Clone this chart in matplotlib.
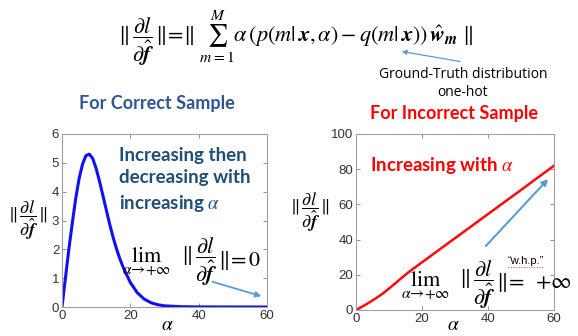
import matplotlib
matplotlib.use("Agg")
import matplotlib.pyplot as plt
from matplotlib.patches import FancyArrowPatch

plt.rcParams['mathtext.fontset'] = 'stix'
plt.rcParams['font.family'] = ['Liberation Sans', 'DejaVu Sans']

# ---- data ----
alpha_correct = [0, 1, 2, 3, 4, 5, 6, 7, 8, 9, 10, 11, 12, 13, 14, 15, 16, 17, 18,
                 20, 22, 24, 26, 28, 30, 35, 40, 50, 60]
grad_correct = [0, 1.0, 2.0, 2.9, 3.75, 4.45, 4.95, 5.25, 5.3, 5.15, 4.8, 4.35, 3.85,
                3.35, 2.85, 2.4, 2.0, 1.65, 1.35, 0.85, 0.5, 0.28, 0.15, 0.08, 0.04,
                0.01, 0.003, 0.0, 0.0]

alpha_incorrect = [0, 3, 6, 8, 10, 12, 14, 16, 20, 30, 40, 50, 60]
grad_incorrect = [0, 3.1, 6.6, 9.2, 12.2, 15.3, 18.5, 21.6, 27.1, 40.8, 54.5, 68.2, 82]

x_ticks = [0, 20, 40, 60]
y_ticks_correct = [0, 1, 2, 3, 4, 5, 6]
y_ticks_incorrect = [0, 20, 40, 60, 80, 100]

W, H = 578, 336
fig = plt.figure(figsize=(W / 100, H / 100), dpi=100)


def px_axes(x0, y0, x1, y1):
    return fig.add_axes([x0 / W, 1 - y1 / H, (x1 - x0) / W, (y1 - y0) / H])


def style(ax):
    for s in ax.spines.values():
        s.set_color('#a0a0a0')
        s.set_linewidth(0.8)
    ax.tick_params(direction='in', length=3, width=0.6, color='#808080',
                   labelsize=9.5, labelcolor='#333333', top=True, right=True, pad=2)


ax1 = px_axes(62, 134, 267, 307)
ax1.plot(alpha_correct, grad_correct, color='#1010f0', lw=2.2)
ax1.set_xlim(0, 60)
ax1.set_ylim(0, 6)
ax1.set_xticks(x_ticks)
ax1.set_yticks(y_ticks_correct)
style(ax1)

ax2 = px_axes(356, 134, 554, 310)
ax2.plot(alpha_incorrect, grad_incorrect, color='#ff0a0a', lw=1.8)
ax2.set_xlim(0, 60)
ax2.set_ylim(0, 100)
ax2.set_xticks(x_ticks)
ax2.set_yticks(y_ticks_incorrect)
style(ax2)

# overlay in pixel coordinates
ov = fig.add_axes([0, 0, 1, 1])
ov.set_xlim(0, W)
ov.set_ylim(H, 0)
ov.axis('off')
ov.patch.set_visible(False)
ov.set_zorder(10)

frac = r'\dfrac{\partial l}{\partial \hat{\boldsymbol{f}}}'

ov.text(118, 38, r'$\Vert\,' + frac + r'\,\Vert\!=\!\Vert\;\sum_{m=1}^{M}\alpha\,(p(m|\,\boldsymbol{x},\alpha)-q(m|\,\boldsymbol{x}))\,\hat{\boldsymbol{w}}_{\boldsymbol{m}}\;\Vert$',
        fontsize=16, ha='left', va='center', color='black')

ov.text(463, 75, 'Ground-Truth distribution', fontsize=10, ha='center', va='center',
        family=['Open Sans', 'DejaVu Sans'])
ov.text(463, 93, 'one-hot', fontsize=10, ha='center', va='center',
        family=['Open Sans', 'DejaVu Sans'])
ov.add_patch(FancyArrowPatch((463, 62), (399, 51), arrowstyle='-|>', mutation_scale=7,
                             color='#5b9bd5', lw=0.9))

ov.text(157, 104, 'For Correct Sample', fontsize=13, fontweight='bold', color='#2f5597',
        ha='center', va='center', family=['Lato', 'DejaVu Sans'])
ov.text(454, 114, 'For Incorrect Sample', fontsize=13, fontweight='bold', color='#ff0000',
        ha='center', va='center', family=['Lato', 'DejaVu Sans'])

ov.text(119, 180, 'Increasing then\ndecreasing with\nincreasing $\\alpha$', fontsize=13.5,
        fontweight='bold', color='#1f4e79', ha='left', va='center', linespacing=1.4,
        family=['Lato', 'DejaVu Sans'])

ov.text(370, 166, 'Increasing with $\\alpha$', fontsize=13.5, fontweight='bold',
        color='#ff0000', ha='left', va='center', family=['Lato', 'DejaVu Sans'])

# y labels
ov.text(28, 220, r'$\Vert\,' + frac + r'\,\Vert$', fontsize=13, ha='center', va='center')
ov.text(310, 212, r'$\Vert\,' + frac + r'\,\Vert$', fontsize=13, ha='center', va='center')
# x labels
ov.text(167, 326, r'$\alpha$', fontsize=14, ha='center', va='center')
ov.text(453, 325, r'$\alpha$', fontsize=14, ha='center', va='center')

# limits (left)
ov.text(146, 262, r'$\lim_{\alpha\to+\infty}$', fontsize=16, ha='center', va='center')
ov.text(181, 262, r'$\Vert\,' + frac + r'$', fontsize=16, ha='left', va='center')
ov.text(218, 260, r'$\Vert\!=0$', fontsize=16, ha='left', va='center')
ov.add_patch(FancyArrowPatch((210, 281), (264, 297), arrowstyle='-|>', mutation_scale=8,
                             color='#5b9bd5', lw=1.3))

# limits (right)
ov.text(425, 286, r'$\lim_{\alpha\to+\infty}$', fontsize=16, ha='center', va='center')
ov.text(459, 285, r'$\Vert\,' + frac + r'$', fontsize=16, ha='left', va='center')
ov.text(496, 283, r'$\Vert\!=\ +\!\infty$', fontsize=16, ha='left', va='center')
ov.text(526, 261, '\u201cw.h.p.\u201d', fontsize=8, ha='center', va='center')
ov.plot([508, 544], [267, 267], color='#ff3030', lw=0.7, ls=':')
ov.add_patch(FancyArrowPatch((484, 248), (550, 177), arrowstyle='-|>', mutation_scale=9,
                             color='#5b9bd5', lw=1.5))

fig.savefig('out.png', dpi=100)
